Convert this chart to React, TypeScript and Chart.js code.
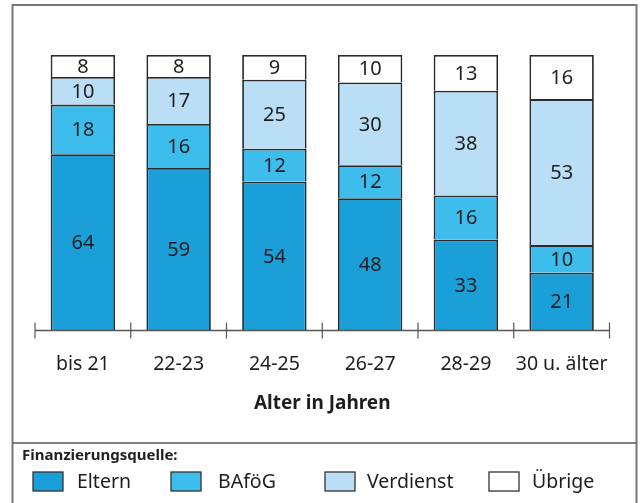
import React, { useEffect, useRef } from "react";
import { Chart, registerables } from "chart.js";

Chart.register(...registerables);

const categories = ["bis 21", "22-23", "24-25", "26-27", "28-29", "30 u. älter"];
const eltern = [64, 59, 54, 48, 33, 21];
const bafoeg = [18, 16, 12, 12, 16, 10];
const verdienst = [10, 17, 25, 30, 38, 53];
const uebrige = [8, 8, 9, 10, 13, 16];
const seriesNames = ["Eltern", "BAföG", "Verdienst", "Übrige"];
const seriesColors = ["#1a9fd9", "#3dbdec", "#badef5", "#ffffff"];
const xTitle = "Alter in Jahren";
const legendTitle = "Finanzierungsquelle:";

const FONT = "'Noto Sans', 'Open Sans', sans-serif";

const decorPlugin = {
  id: "decor",
  beforeDraw(chart: any) {
    const ctx = chart.ctx;
    ctx.save();
    ctx.fillStyle = "#ffffff";
    ctx.fillRect(0, 0, chart.width, chart.height);
    ctx.strokeStyle = "#777777";
    ctx.lineWidth = 2;
    ctx.beginPath();
    ctx.moveTo(12.5, chart.height + 5);
    ctx.lineTo(12.5, 5);
    ctx.lineTo(636.5, 5);
    ctx.lineTo(636.5, chart.height + 5);
    ctx.stroke();
    ctx.lineWidth = 1.5;
    ctx.strokeStyle = "#555555";
    ctx.beginPath();
    ctx.moveTo(12.5, 443);
    ctx.lineTo(636.5, 443);
    ctx.stroke();
    ctx.restore();
  },
  afterDatasetsDraw(chart: any) {
    const ctx = chart.ctx;
    const xs = chart.scales.x;
    const area = chart.chartArea;
    ctx.save();
    ctx.strokeStyle = "#555555";
    ctx.lineWidth = 1.5;
    ctx.beginPath();
    ctx.moveTo(area.left, area.bottom);
    ctx.lineTo(area.right, area.bottom);
    ctx.stroke();
    const step = xs.getPixelForValue(1) - xs.getPixelForValue(0);
    ctx.lineWidth = 1.2;
    for (let i = 0; i <= categories.length; i++) {
      const x = xs.getPixelForValue(0) - step / 2 + i * step;
      ctx.beginPath();
      ctx.moveTo(x, area.bottom - 8);
      ctx.lineTo(x, area.bottom + 8);
      ctx.stroke();
    }
    ctx.fillStyle = "#1e1e1e";
    ctx.textAlign = "center";
    ctx.textBaseline = "middle";
    ctx.font = `19.5px ${FONT}`;
    categories.forEach((c, i) => {
      ctx.fillText(c, xs.getPixelForValue(i), area.bottom + 34);
    });
    ctx.font = `bold 19px ${FONT}`;
    ctx.fillText(xTitle, (area.left + area.right) / 2, area.bottom + 73);
    ctx.font = `20px ${FONT}`;
    chart.data.datasets.forEach((ds: any, di: number) => {
      const meta = chart.getDatasetMeta(di);
      meta.data.forEach((el: any, i: number) => {
        const yc = (el.y + el.base) / 2;
        ctx.fillText(String(ds.data[i]), el.x, yc + 1);
      });
    });
    ctx.textAlign = "left";
    ctx.font = `bold 15px ${FONT}`;
    ctx.fillText(legendTitle, 22, 456);
    const boxX = [33, 171, 325, 489];
    const textX = [77, 218, 367, 532];
    ctx.font = `19.5px ${FONT}`;
    chart.data.datasets.forEach((ds: any, di: number) => {
      ctx.fillStyle = ds.backgroundColor;
      ctx.fillRect(boxX[di], 472, 30, 19);
      ctx.strokeStyle = "#333333";
      ctx.lineWidth = 1.3;
      ctx.strokeRect(boxX[di], 472, 30, 19);
      ctx.fillStyle = "#1e1e1e";
      ctx.fillText(ds.label, textX[di], 482);
    });
    ctx.restore();
  },
};

export default function App() {
  const ref = useRef<HTMLCanvasElement | null>(null);
  useEffect(() => {
    if (!ref.current) return;
    const series = [eltern, bafoeg, verdienst, uebrige];
    const chart = new Chart(ref.current, {
      type: "bar",
      data: {
        labels: categories,
        datasets: series.map((d, i) => ({
          label: seriesNames[i],
          data: d,
          backgroundColor: seriesColors[i],
          borderColor: "#2a2a2a",
          borderWidth: 1.8,
          borderSkipped: "start",
          barPercentage: 0.673,
          categoryPercentage: 1,
        })),
      },
      options: {
        animation: false,
        responsive: false,
        events: [],
        layout: { padding: { left: 35, right: 33.5, top: 55, bottom: 164.5 } },
        plugins: { legend: { display: false }, tooltip: { enabled: false }, title: { display: false } },
        scales: {
          x: {
            stacked: true,
            grid: { display: false },
            border: { display: false },
            ticks: { display: false },
            title: { display: false },
          },
          y: { stacked: true, display: false, min: 0, max: 100 },
        },
      },
      plugins: [decorPlugin],
    });
    return () => chart.destroy();
  }, []);
  return (
    <div style={{ position: "fixed", left: 0, top: 0, width: 643, height: 503 }}>
      <canvas ref={ref} width={643} height={503} style={{ width: 643, height: 503, display: "block" }} />
    </div>
  );
}
